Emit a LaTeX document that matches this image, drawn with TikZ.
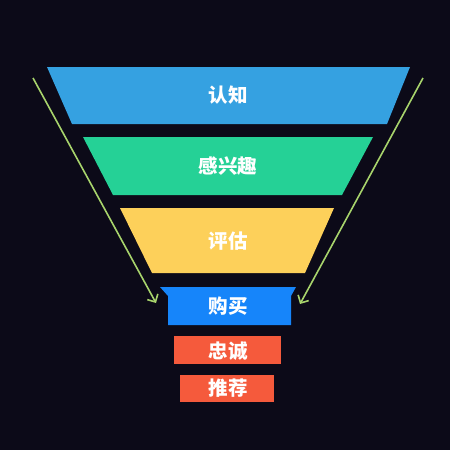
\documentclass[tikz,border=0pt]{standalone}
\usepackage{fontspec}
\newfontfamily\cjk{Noto Sans CJK SC}
\usetikzlibrary{arrows.meta}
\definecolor{night}{HTML}{0C0A18}
\definecolor{awareblue}{HTML}{35A1E1}
\definecolor{interestgreen}{HTML}{25D196}
\definecolor{evalyellow}{HTML}{FDD05A}
\definecolor{buyblue}{HTML}{1685FA}
\definecolor{loyalred}{HTML}{F55A3C}
\definecolor{guidegreen}{HTML}{A8D46C}
\begin{document}
\begin{tikzpicture}[x = 1pt, y = -1pt, stage/.style = {text = white, font = \cjk\bfseries\fontsize{19.5}{22}\selectfont}]
		%%%%%%%%%%%%%
		\fill[night] (0, 0) rectangle (450, 450);
		%%%%%%%%%%%%%
		\fill[awareblue] (47, 67) -- (410, 67) -- (387, 124) -- (72, 124) -- cycle;
		\fill[interestgreen] (83, 137) -- (373, 137) -- (342, 195) -- (113, 195) -- cycle;
		\fill[evalyellow] (120, 208) -- (334, 208) -- (305, 273) -- (152, 273) -- cycle;
		\fill[buyblue] (160, 287) -- (296, 287) -- (291, 296) -- (291, 325) -- (168, 325) -- (168, 296) -- cycle;
		\fill[loyalred] (174, 336) rectangle (281, 364);
		\fill[loyalred] (180, 375) rectangle (274, 402);
		%%%%%%%%%%%%%
		\node[stage] (a) at (228, 95) {认知};
		\node[stage] (b) at (228, 166) {感兴趣};
		\node[stage] (c) at (228, 241) {评估};
		\node[stage] (d) at (228, 306) {购买};
		\node[stage] (e) at (228, 351) {忠诚};
		\node[stage] (f) at (228, 388) {推荐};
		%%%%%%%%%%%%%
		\coordinate (l0) at (33, 78); \coordinate (l1) at (156, 303);
		\coordinate (r0) at (423, 78); \coordinate (r1) at (300, 304);
		\draw[guidegreen, line width = 1.6pt, -{Straight Barb[length = 6pt]}] (l0) to (l1);
		\draw[guidegreen, line width = 1.6pt, -{Straight Barb[length = 6pt]}] (r0) to (r1);
		%%%%%%%%%%%%%%
	\end{tikzpicture}
\end{document}
